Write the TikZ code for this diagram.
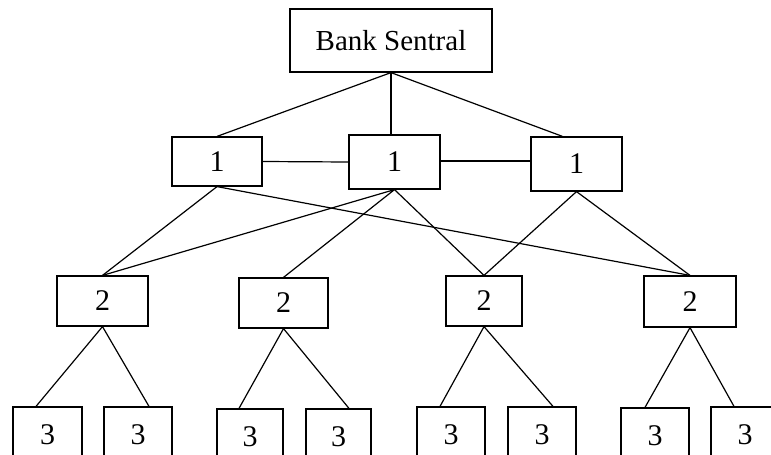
\documentclass[tikz,border=0pt]{standalone}
\usepackage{fontspec}
\setmainfont{Liberation Serif}
\begin{document}
\begin{tikzpicture}[x=1pt,y=-1pt,
  box/.style={draw, line width=1.2pt, rectangle, inner sep=0pt, font=\fontsize{30}{36}\selectfont},
  conn/.style={line width=1.2pt}]
\clip (0,0) rectangle (771,455);
\useasboundingbox (0,0) rectangle (771,455);
% top
\node[box, minimum width=202pt, minimum height=63pt, font=\fontsize{29}{35}\selectfont] (T) at (391,40.5) {Bank Sentral};
% level 1
\node[box, minimum width=90pt, minimum height=49pt] (A) at (217,161.5) {1};
\node[box, minimum width=91pt, minimum height=54pt] (B) at (394.5,162) {1};
\node[box, minimum width=91pt, minimum height=54pt] (C) at (576.5,164) {1};
% level 2
\node[box, minimum width=91pt, minimum height=50pt] (P) at (102.5,301) {2};
\node[box, minimum width=89pt, minimum height=50pt] (Q) at (283.5,303) {2};
\node[box, minimum width=76pt, minimum height=50pt] (R) at (484,301) {2};
\node[box, minimum width=92pt, minimum height=51pt] (S) at (690,301.5) {2};
% level 3
\node[box, minimum width=69pt, minimum height=56pt] (a) at (47.5,435) {3};
\node[box, minimum width=68pt, minimum height=56pt] (b) at (138,435) {3};
\node[box, minimum width=66pt, minimum height=56pt] (c) at (250,437) {3};
\node[box, minimum width=65pt, minimum height=56pt] (d) at (338.5,437) {3};
\node[box, minimum width=68pt, minimum height=56pt] (e) at (451,435) {3};
\node[box, minimum width=68pt, minimum height=56pt] (f) at (542,435) {3};
\node[box, minimum width=68pt, minimum height=56pt] (g) at (655,436) {3};
\node[box, minimum width=68pt, minimum height=56pt] (h) at (745,435) {3};
% top connectors
\draw[conn] (A.north) -- (T.south) -- ([xshift=-14pt]C.north);
\draw[conn] (T.south) -- (T.south |- B.north);
% horizontal
\draw[conn] (A.east) -- (B.west);
\draw[conn] ([yshift=3pt]C.west) -- ([yshift=3pt]C.west -| B.east);
% level1 -> level2
\draw[conn] (P.north) -- (A.south) -- (S.north);
\draw[conn] (P.north) -- (B.south) -- (Q.north);
\draw[conn] (B.south) -- (R.north) -- (C.south) -- (S.north);
% level2 -> level3
\draw[conn] ([xshift=-11.5pt]a.north) -- (P.south) -- ([xshift=11pt]b.north);
\draw[conn] ([xshift=-11pt]c.north) -- (Q.south) -- ([xshift=10.5pt]d.north);
\draw[conn] ([xshift=-11pt]e.north) -- (R.south) -- ([xshift=11pt]f.north);
\draw[conn] ([xshift=-10pt]g.north) -- (S.south) -- ([xshift=-11pt]h.north);
\end{tikzpicture}
\end{document}
